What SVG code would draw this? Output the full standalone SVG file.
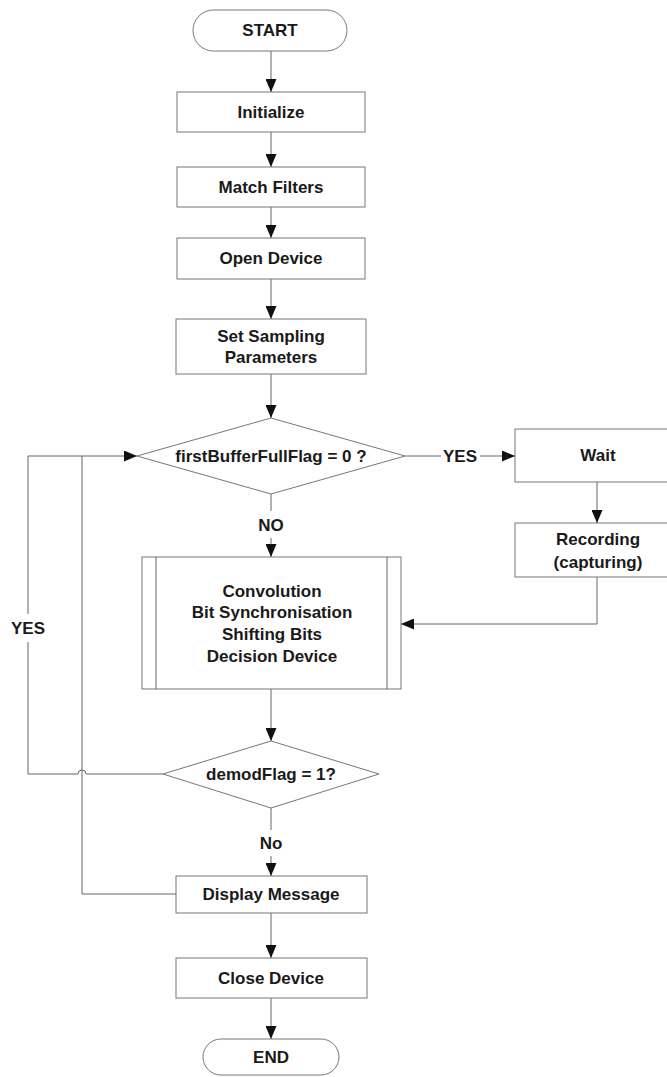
<svg xmlns="http://www.w3.org/2000/svg" width="667" height="1077" viewBox="0 0 667 1077">
<defs>
<style>
.shape{fill:#fff;stroke:#777;stroke-width:1}
.ln{fill:none;stroke:#666;stroke-width:1}
.t{font-family:"Liberation Sans",Arial,sans-serif;font-weight:bold;font-size:17px;fill:#1a1a1a;text-anchor:middle;dominant-baseline:central}
</style>
<marker id="arr" viewBox="0 0 13 11" refX="13" refY="5.5" markerWidth="13" markerHeight="11" markerUnits="userSpaceOnUse" orient="auto">
<path d="M0,0 L13,5.5 L0,11 Z" fill="#111"/>
</marker>
</defs>
<rect width="667" height="1077" fill="#fff"/>
<g id="connectors">
<line class="ln" x1="271" y1="51" x2="271" y2="92" marker-end="url(#arr)"/>
<line class="ln" x1="271" y1="132" x2="271" y2="167" marker-end="url(#arr)"/>
<line class="ln" x1="271" y1="207" x2="271" y2="238" marker-end="url(#arr)"/>
<line class="ln" x1="271" y1="279" x2="271" y2="319" marker-end="url(#arr)"/>
<line class="ln" x1="271" y1="374" x2="271" y2="418" marker-end="url(#arr)"/>
<line class="ln" x1="405" y1="456" x2="441" y2="456"/>
<text class="t" x="460" y="456">YES</text>
<line class="ln" x1="480" y1="456" x2="515" y2="456" marker-end="url(#arr)"/>
<line class="ln" x1="597" y1="482" x2="597" y2="523" marker-end="url(#arr)"/>
<polyline class="ln" points="597,577 597,624 401,624" marker-end="url(#arr)"/>
<line class="ln" x1="271" y1="494" x2="271" y2="511"/>
<text class="t" x="271" y="525">NO</text>
<line class="ln" x1="271" y1="538" x2="271" y2="557" marker-end="url(#arr)"/>
<line class="ln" x1="271" y1="689" x2="271" y2="741" marker-end="url(#arr)"/>
<line class="ln" x1="271" y1="808" x2="271" y2="830"/>
<text class="t" x="271" y="843">No</text>
<line class="ln" x1="271" y1="856" x2="271" y2="876" marker-end="url(#arr)"/>
<path class="ln" d="M163,774 L86,774 A4,4 0 0 0 78,774 L28,774 L28,642"/>
<text class="t" x="28" y="628">YES</text>
<polyline class="ln" points="28,614 28,456 137,456" marker-end="url(#arr)"/>
<polyline class="ln" points="176,894 82,894 82,456"/>
<line class="ln" x1="271" y1="913" x2="271" y2="958" marker-end="url(#arr)"/>
<line class="ln" x1="271" y1="998" x2="271" y2="1039" marker-end="url(#arr)"/>
</g>
<g id="start">
<rect class="shape" x="193" y="10" width="154" height="41" rx="20.5"/>
<text class="t" x="270" y="30.5">START</text>
</g>
<g id="initialize">
<rect class="shape" x="177" y="92" width="188" height="40"/>
<text class="t" x="271" y="112">Initialize</text>
</g>
<g id="match-filters">
<rect class="shape" x="177" y="167" width="188" height="40"/>
<text class="t" x="271" y="187">Match Filters</text>
</g>
<g id="open-device">
<rect class="shape" x="177" y="238" width="188" height="41"/>
<text class="t" x="271" y="258.5">Open Device</text>
</g>
<g id="set-sampling">
<rect class="shape" x="176" y="319" width="190" height="55"/>
<text class="t" x="271" y="336">Set Sampling</text>
<text class="t" x="271" y="357">Parameters</text>
</g>
<g id="decision-first">
<polygon class="shape" points="271,418 405,456 271,494 137,456"/>
<text class="t" x="271" y="456">firstBufferFullFlag = 0 ?</text>
</g>
<g id="wait">
<rect class="shape" x="515" y="429" width="170" height="53"/>
<text class="t" x="598" y="455.5">Wait</text>
</g>
<g id="recording">
<rect class="shape" x="515" y="523" width="170" height="54"/>
<text class="t" x="598" y="539">Recording</text>
<text class="t" x="598" y="562">(capturing)</text>
</g>
<g id="process">
<rect class="shape" x="142" y="557" width="259" height="132"/>
<line class="ln" x1="156" y1="557" x2="156" y2="689"/>
<line class="ln" x1="387" y1="557" x2="387" y2="689"/>
<text class="t" x="272" y="591">Convolution</text>
<text class="t" x="272" y="612">Bit Synchronisation</text>
<text class="t" x="272" y="634">Shifting Bits</text>
<text class="t" x="272" y="656">Decision Device</text>
</g>
<g id="decision-demod">
<polygon class="shape" points="271,741 379,774 271,808 163,774"/>
<text class="t" x="271" y="774">demodFlag = 1?</text>
</g>
<g id="display-message">
<rect class="shape" x="176" y="876" width="191" height="37"/>
<text class="t" x="271" y="894.5">Display Message</text>
</g>
<g id="close-device">
<rect class="shape" x="176" y="958" width="191" height="40"/>
<text class="t" x="271" y="978">Close Device</text>
</g>
<g id="end">
<rect class="shape" x="203" y="1039" width="136" height="36" rx="18"/>
<text class="t" x="271" y="1057">END</text>
</g>
</svg>
